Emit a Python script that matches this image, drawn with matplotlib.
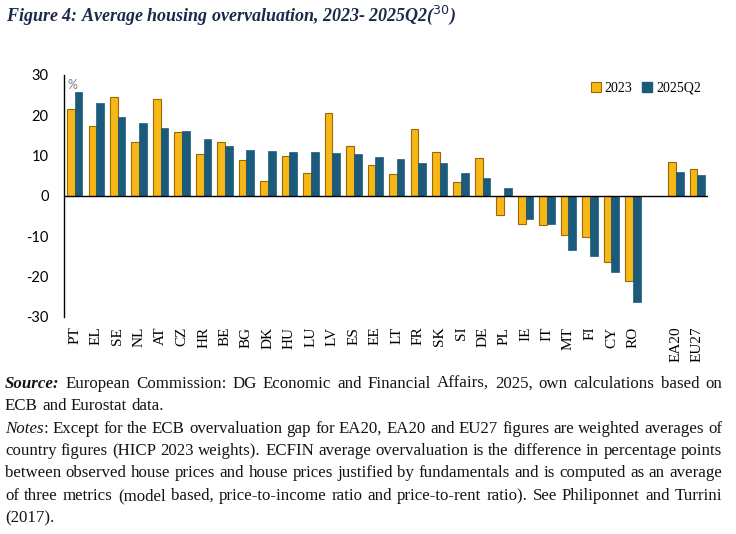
import numpy as np
import matplotlib
matplotlib.use('Agg')
import matplotlib.pyplot as plt
from matplotlib.patches import Patch

# data (% overvaluation)
countries = ['PT', 'EL', 'SE', 'NL', 'AT', 'CZ', 'HR', 'BE', 'BG', 'DK', 'HU', 'LU', 'LV', 'ES',
             'EE', 'LT', 'FR', 'SK', 'SI', 'DE', 'PL', 'IE', 'IT', 'MT', 'FI', 'CY', 'RO']
val_2023 = [21.6, 17.3, 24.5, 13.4, 24.0, 15.9, 10.4, 13.4, 8.9, 3.7, 9.8, 5.6, 20.6, 12.4,
            7.7, 5.5, 16.6, 10.9, 3.5, 9.4, -4.8, -7.0, -7.3, -9.7, -10.2, -16.4, -21.1]
val_2025q2 = [25.9, 23.0, 19.5, 18.1, 16.8, 16.2, 14.1, 12.3, 11.5, 11.1, 10.9, 10.8, 10.6, 10.5,
              9.6, 9.1, 8.3, 8.2, 5.6, 4.5, 1.9, -5.8, -7.0, -13.4, -15.0, -18.8, -26.3]
aggregates = ['EA20', 'EU27']
agg_2023 = [8.4, 6.7]
agg_2025q2 = [6.0, 5.3]

YELLOW = '#F7B817'
YEDGE = '#9A6A00'
BLUE = '#1C5A7C'
NAVY = '#1B2A4A'

labels = countries + [''] + aggregates
v1 = val_2023 + [np.nan] + agg_2023
v2 = val_2025q2 + [np.nan] + agg_2025q2
x = np.arange(len(labels))
w = 0.36

fig = plt.figure(figsize=(7.36, 5.34), dpi=100)
ax = fig.add_axes([0.087, 0.4064, 0.875, 0.4532])

ax.bar(x - w / 2, v1, w, color=YELLOW, edgecolor=YEDGE, linewidth=0.8, label='2023')
ax.bar(x + w / 2, v2, w, color=BLUE, edgecolor=BLUE, linewidth=0.5, label='2025Q2')
ax.axhline(0, color='black', lw=1.0)

ax.set_xlim(-0.5, len(labels) - 0.5)
ax.set_ylim(-30, 30)
ax.set_yticks([-30, -20, -10, 0, 10, 20, 30])
ax.set_yticklabels(['-30', '-20', '-10', '0', '10', '20', '30'], fontfamily='Lato', fontsize=10.5)
ax.tick_params(axis='y', length=0, pad=11)
ax.set_xticks(x)
ax.set_xticklabels(labels, rotation=90, fontfamily='Liberation Serif', fontsize=11)
ax.tick_params(axis='x', length=0, pad=7)
for s in ['top', 'right', 'bottom']:
    ax.spines[s].set_visible(False)
ax.spines['left'].set_linewidth(1.0)

ax.text(0.006, 0.985, '%', transform=ax.transAxes, fontfamily='Lato', fontsize=9,
        color='#808080', va='top', ha='left')

handles = [Patch(facecolor=YELLOW, edgecolor=YEDGE, lw=0.8), Patch(facecolor=BLUE, edgecolor=BLUE)]
ax.legend(handles, ['2023', '2025Q2'], loc='upper right', bbox_to_anchor=(1.0, 1.0), ncol=2,
          frameon=False, handlelength=0.7, handleheight=0.7, handletextpad=0.3,
          columnspacing=0.7, borderpad=0, prop={'family': 'Liberation Serif', 'size': 10})

fig.text(0.008, 0.972, r'Figure 4: Average housing overvaluation, 2023- 2025Q2($^{30}$)',
         fontfamily='Liberation Serif', fontstyle='italic', fontweight='bold', fontsize=13,
         color=NAVY, va='center', ha='left')

# notes under the chart, justified like the source document
renderer = fig.canvas.get_renderer()
FS = 12.2
TXT = '#141414'
X0, X1 = 5, 722
lines = [
    ([('Source:', 'bi'), 'European', 'Commission:', 'DG', 'Economic', 'and', 'Financial', 'Affairs,',
      '2025,', 'own', 'calculations', 'based', 'on'], True),
    (['ECB', 'and', 'Eurostat', 'data.'], False),
    ([('Notes', 'i'), 'Except', 'for', 'the', 'ECB', 'overvaluation', 'gap', 'for', 'EA20,', 'EA20', 'and',
      'EU27', 'figures', 'are', 'weighted', 'averages', 'of'], True),
    (['country', 'figures', '(HICP', '2023', 'weights).', 'ECFIN', 'average', 'overvaluation', 'is', 'the',
      'difference', 'in', 'percentage', 'points'], True),
    (['between', 'observed', 'house', 'prices', 'and', 'house', 'prices', 'justified', 'by', 'fundamentals',
      'and', 'is', 'computed', 'as', 'an', 'average'], True),
    (['of', 'three', 'metrics', '(model', 'based,', 'price-to-income', 'ratio', 'and', 'price-to-rent',
      'ratio).', 'See', 'Philiponnet', 'and', 'Turrini'], True),
    (['(2017).'], False),
]
ys = [383, 405, 428, 450, 472, 495, 517]
H = 534

tmp = fig.text(0, 0, 'a a', fontfamily='Liberation Serif', fontsize=FS)
tmp2 = fig.text(0, 0, 'aa', fontfamily='Liberation Serif', fontsize=FS)
space_w = tmp.get_window_extent(renderer).width - tmp2.get_window_extent(renderer).width
tmp.remove()
tmp2.remove()

for (words, justify), yp in zip(lines, ys):
    yb = 1 - (yp + 5) / H
    arts = []
    gaps = []
    for wd in words:
        txt, st = wd if isinstance(wd, tuple) else (wd, 'n')
        t = fig.text(0, yb, txt, fontfamily='Liberation Serif', fontsize=FS,
                     fontstyle='italic' if st in ('i', 'bi') else 'normal',
                     fontweight='bold' if st == 'bi' else 'normal',
                     va='baseline', ha='left', color=TXT)
        arts.append(t)
        gaps.append(1)
        if txt == 'Notes':
            # italic word, upright colon right after it
            gaps[-1] = 0
            arts.append(fig.text(0, yb, ':', fontfamily='Liberation Serif', fontsize=FS,
                                 va='baseline', ha='left', color=TXT))
            gaps.append(1)
    gaps = gaps[:-1]
    widths = [a.get_window_extent(renderer).width for a in arts]
    ngap = sum(gaps)
    if justify and ngap > 0:
        gw = (X1 - X0 - sum(widths)) / ngap
    else:
        gw = space_w
    xp = X0
    for i, a in enumerate(arts):
        a.set_x(xp / 736)
        xp += widths[i]
        if i < len(gaps):
            xp += gw * gaps[i]

fig.savefig('out.png', dpi=100)
